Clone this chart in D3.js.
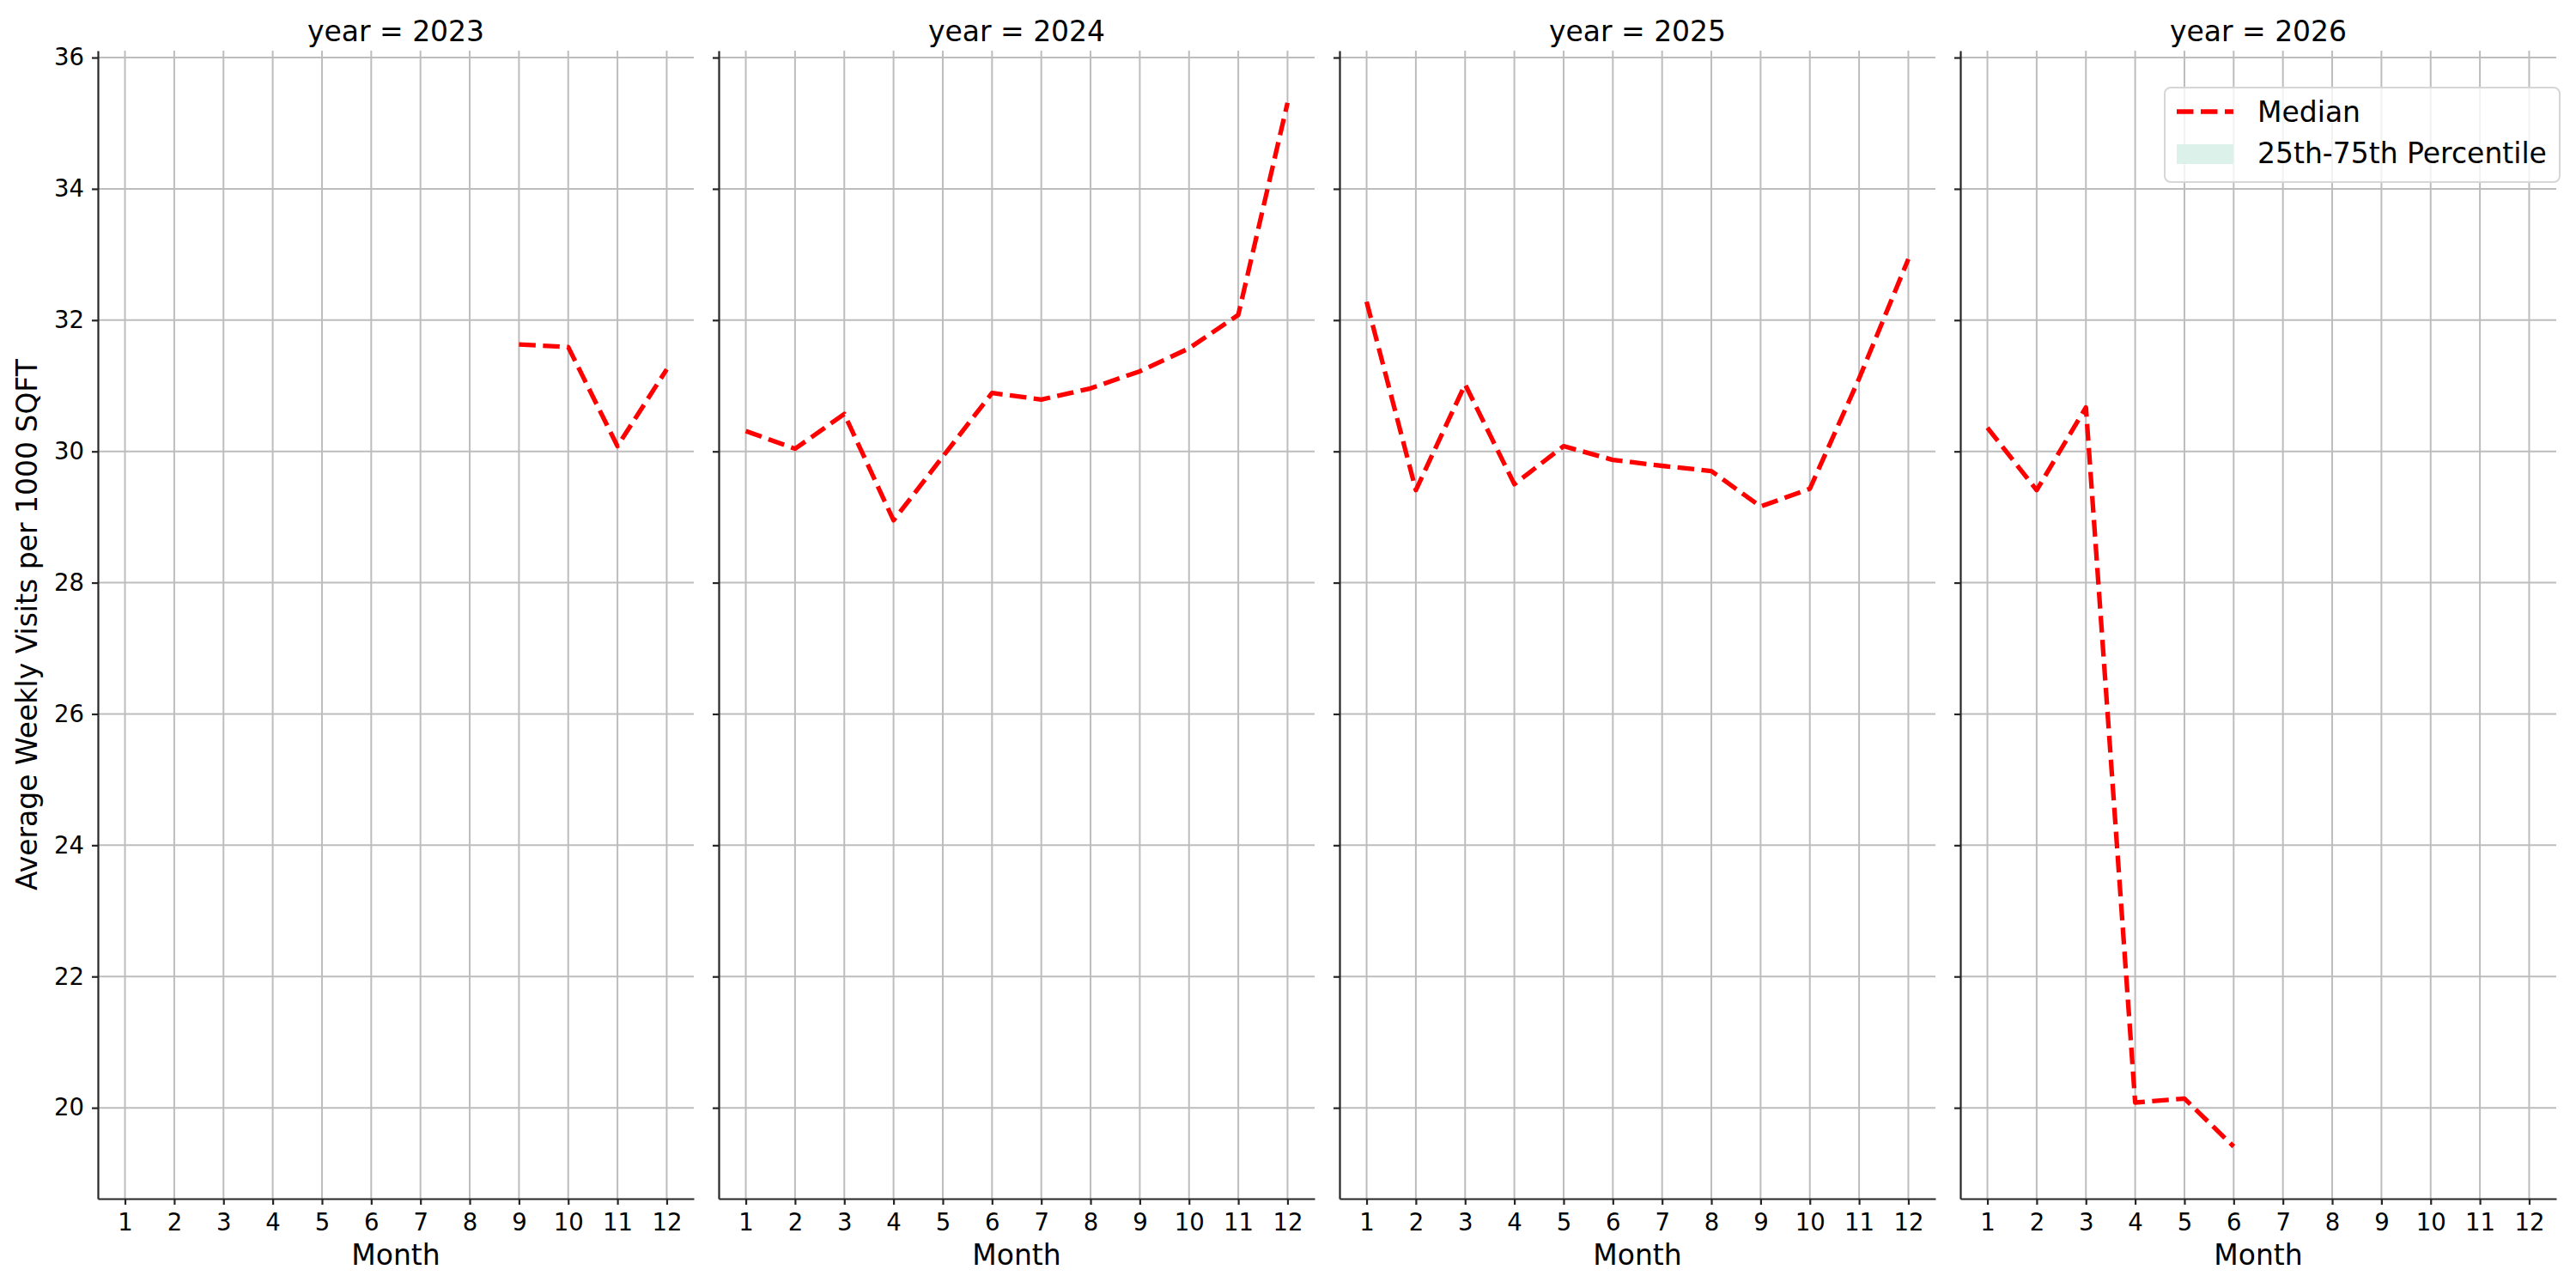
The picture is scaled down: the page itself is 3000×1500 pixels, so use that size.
<!DOCTYPE html>
<html lang="en">
	<head>
		<meta charset="utf-8">
		<title>Median weekly visits by month, faceted by year</title>
		<script type="text/javascript" src="https://cdn.jsdelivr.net/npm/d3@7"></script>
		<style type="text/css">
			body { margin: 0; background: #fff; }
			text { font-family: "DejaVu Sans", sans-serif; fill: #000; }
		</style>
	</head>
	<body>
		<script type="text/javascript">
			// Data
			var years = [2023, 2024, 2025, 2026];
			var months = [1, 2, 3, 4, 5, 6, 7, 8, 9, 10, 11, 12];
			var median2023 = [null, null, null, null, null, null, null, null, 31.63, 31.59, 30.08, 31.25];
			var median2024 = [30.31, 30.04, 30.57, 28.95, 29.92, 30.89, 30.79, 30.96, 31.22, 31.57, 32.08, 35.31];
			var median2025 = [32.28, 29.41, 31.02, 29.50, 30.08, 29.87, 29.78, 29.70, 29.16, 29.43, 31.11, 32.93];
			var median2026 = [30.36, 29.41, 30.67, 20.08, 20.14, 19.41, null, null, null, null, null, null];
			var yTicks = [20, 22, 24, 26, 28, 30, 32, 34, 36];
			var legendLabels = ["Median", "25th-75th Percentile"];

			var medians = [median2023, median2024, median2025, median2026];

			//Width and height
			var w = 3000;
			var h = 1500;

			var margin = {top: 59, left: 114};
			var panelW = 694;
			var panelStep = 723;
			var panelH = 1337;

			var gridColor = "#bdbdbd";
			var spineColor = "#262626";

			var svg = d3.select("body")
						.append("svg")
						.attr("width", w)
						.attr("height", h);

			// shared y scale, matplotlib style 5% padding
			var allVals = [].concat.apply([], medians).filter(function(d) { return d != null; });
			var ymin = d3.min(allVals), ymax = d3.max(allVals);
			var ypad = (ymax - ymin) * 0.05;
			var yScale = d3.scaleLinear()
							.domain([ymin - ypad, ymax + ypad])
							.range([margin.top + panelH, margin.top]);

			var xpad = (12 - 1) * 0.05;

			years.forEach(function(year, i) {
				var x0 = margin.left + i * panelStep;
				var xScale = d3.scaleLinear()
								.domain([1 - xpad, 12 + xpad])
								.range([x0, x0 + panelW]);

				var g = svg.append("g").attr("class", "panel");

				// grid
				g.selectAll("line.vgrid")
				 .data(months)
				 .enter()
				 .append("line")
				 .attr("x1", function(d) { return xScale(d); })
				 .attr("x2", function(d) { return xScale(d); })
				 .attr("y1", margin.top)
				 .attr("y2", margin.top + panelH)
				 .attr("stroke", gridColor)
				 .attr("stroke-width", 2);

				g.selectAll("line.hgrid")
				 .data(yTicks)
				 .enter()
				 .append("line")
				 .attr("x1", x0)
				 .attr("x2", x0 + panelW)
				 .attr("y1", function(d) { return yScale(d); })
				 .attr("y2", function(d) { return yScale(d); })
				 .attr("stroke", gridColor)
				 .attr("stroke-width", 2);

				// median line
				var line = d3.line()
							.defined(function(d) { return d != null; })
							.x(function(d, j) { return xScale(months[j]); })
							.y(function(d) { return yScale(d); });

				g.append("path")
				 .datum(medians[i])
				 .attr("d", line)
				 .attr("fill", "none")
				 .attr("stroke", "#ff0000")
				 .attr("stroke-width", 5.3)
				 .attr("stroke-dasharray", "19.5 8.5")
				 .attr("stroke-linejoin", "round");

				// axes
				var xAxis = d3.axisBottom(xScale)
							.tickValues(months)
							.tickFormat(d3.format("d"))
							.tickSize(7)
							.tickSizeOuter(0)
							.tickPadding(10);

				var yAxis = d3.axisLeft(yScale)
							.tickValues(yTicks)
							.tickSize(7)
							.tickSizeOuter(0)
							.tickPadding(9);
				if (i > 0) yAxis.tickFormat("");

				var gx = g.append("g")
					.attr("transform", "translate(0," + (margin.top + panelH) + ")")
					.call(xAxis);
				var gy = g.append("g")
					.attr("transform", "translate(" + x0 + ",0)")
					.call(yAxis);

				[gx, gy].forEach(function(a) {
					a.selectAll("path.domain").attr("stroke", spineColor).attr("stroke-width", 2.2);
					a.selectAll(".tick line").attr("stroke", spineColor).attr("stroke-width", 2.2);
					a.selectAll(".tick text")
					 .attr("font-family", "DejaVu Sans")
					 .attr("font-size", "27.5px")
					 .attr("fill", "#000");
				});

				// title
				g.append("text")
				 .attr("x", x0 + panelW / 2)
				 .attr("y", 48)
				 .attr("text-anchor", "middle")
				 .attr("font-size", "33px")
				 .text("year = " + year);

				// x label
				g.append("text")
				 .attr("x", x0 + panelW / 2)
				 .attr("y", 1473)
				 .attr("text-anchor", "middle")
				 .attr("font-size", "33px")
				 .text("Month");
			});

			// y label
			svg.append("text")
			   .attr("transform", "translate(43," + (margin.top + panelH / 2) + ") rotate(-90)")
			   .attr("text-anchor", "middle")
			   .attr("font-size", "33px")
			   .text("Average Weekly Visits per 1000 SQFT");

			// legend (last panel, upper right)
			var lg = svg.append("g").attr("class", "legend");
			lg.append("rect")
			  .attr("x", 2521).attr("y", 102)
			  .attr("width", 460).attr("height", 110)
			  .attr("rx", 7)
			  .attr("fill", "#fff").attr("fill-opacity", 0.8)
			  .attr("stroke", "#d6d6d6").attr("stroke-width", 2);
			lg.append("line")
			  .attr("x1", 2535).attr("x2", 2601)
			  .attr("y1", 130).attr("y2", 130)
			  .attr("stroke", "#ff0000")
			  .attr("stroke-width", 5.3)
			  .attr("stroke-dasharray", "19.5 8.5");
			lg.append("rect")
			  .attr("x", 2535).attr("y", 168)
			  .attr("width", 66).attr("height", 23)
			  .attr("fill", "#ddf1eb");
			lg.selectAll("text.leg")
			  .data(legendLabels)
			  .enter()
			  .append("text")
			  .attr("x", 2629)
			  .attr("y", function(d, i) { return 142 + i * 48; })
			  .attr("font-size", "33px")
			  .text(function(d) { return d; });
		</script>
	</body>
</html>
